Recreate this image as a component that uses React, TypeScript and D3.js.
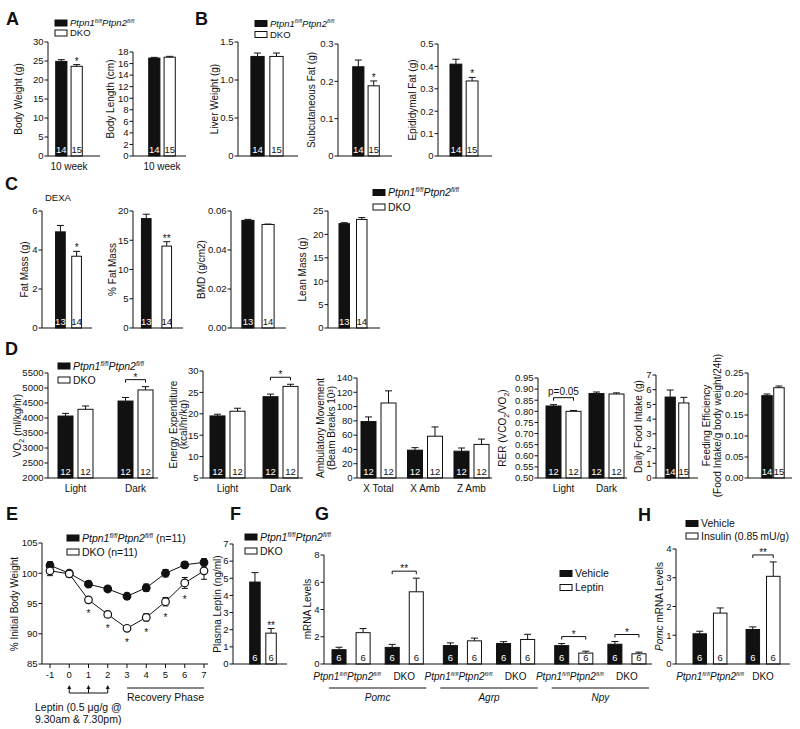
import React, { useEffect } from 'react';
import * as d3 from 'd3';

const FONT = "'Liberation Sans', Arial, Helvetica, sans-serif";
const INK = '#111';
const TICK = 9.5;
const LAB = 10;
const TL = 3.5; // tick length
const TG = 4.5; // tick label offset

// ---------------- DATA ----------------
// A
const ageLabel = ['10 week'];
const nA = [[14, 15]];
const bodyWeightMean = [[24.9, 23.6]];
const bodyWeightSem = [[0.45, 0.45]];
const bodyWeightTicks = [0, 5, 10, 15, 20, 25, 30];
const bodyLengthMean = [[16.95, 17.1]];
const bodyLengthSem = [[0.12, 0.15]];
const bodyLengthTicks = [0, 2, 4, 6, 8, 10, 12, 14, 16, 18];
// B
const nB = [[14, 15]];
const liverMean = [[1.31, 1.31]];
const liverSem = [[0.045, 0.045]];
const liverTicks = [0, 0.5, 1.0, 1.5];
const subcutMean = [[0.239, 0.188]];
const subcutSem = [[0.018, 0.013]];
const subcutTicks = [0, 0.1, 0.2, 0.3];
const epiMean = [[0.41, 0.335]];
const epiSem = [[0.022, 0.016]];
const epiTicks = [0, 0.1, 0.2, 0.3, 0.4, 0.5];
// C
const nC = [[13, 14]];
const fatMassMean = [[4.93, 3.68]];
const fatMassSem = [[0.33, 0.25]];
const fatMassTicks = [0, 2, 4, 6];
const pctFatMean = [[18.7, 14.0]];
const pctFatSem = [[0.75, 0.75]];
const pctFatTicks = [0, 5, 10, 15, 20];
const bmdMean = [[0.0552, 0.0531]];
const bmdSem = [[0.0005, 0.0002]];
const bmdTicks = [0, 0.02, 0.04, 0.06];
const leanMean = [[22.3, 23.2]];
const leanSem = [[0.2, 0.4]];
const leanTicks = [0, 5, 10, 15, 20, 25];
// D
const phases = ['Light', 'Dark'];
const nD2 = [[12, 12], [12, 12]];
const nD3 = [[12, 12], [12, 12], [12, 12]];
const vo2Mean = [[4065, 4290], [4565, 4935]];
const vo2Sem = [[90, 110], [120, 110]];
const vo2Ticks = [2000, 2500, 3000, 3500, 4000, 4500, 5000, 5500];
const eeMean = [[19.5, 20.6], [24.0, 26.4]];
const eeSem = [[0.4, 0.7], [0.6, 0.5]];
const eeTicks = [5, 10, 15, 20, 25, 30];
const ambCats = ['X Total', 'X Amb', 'Z Amb'];
const ambMean = [[79, 105], [39, 58.5], [37.5, 47]];
const ambSem = [[6.5, 17], [3.5, 13], [4.5, 7.5]];
const ambTicks = [0, 20, 40, 60, 80, 100, 120, 140];
const rerMean = [[0.824, 0.8], [0.88, 0.878]];
const rerSem = [[0.006, 0.004], [0.007, 0.005]];
const rerTicks = [0.5, 0.55, 0.6, 0.65, 0.7, 0.75, 0.8, 0.85, 0.9, 0.95];
const nFood = [[14, 15]];
const foodMean = [[5.5, 5.1]];
const foodSem = [[0.48, 0.38]];
const foodTicks = [0, 1, 2, 3, 4, 5, 6, 7];
const feedEffMean = [[0.196, 0.215]];
const feedEffSem = [[0.004, 0.004]];
const feedEffTicks = [0, 0.05, 0.1, 0.15, 0.2, 0.25];
// E
const days = [-1, 0, 1, 2, 3, 4, 5, 6, 7];
const bwCtrl = [101.3, 100.0, 98.2, 97.4, 96.2, 97.6, 100.0, 101.4, 101.8];
const bwCtrlSem = [0.6, 0.4, 0.3, 0.3, 0.5, 0.6, 0.6, 0.5, 0.6];
const bwDko = [100.4, 99.9, 95.6, 93.2, 90.9, 92.7, 95.3, 98.4, 100.4];
const bwDkoSem = [0.8, 0.5, 0.4, 0.5, 0.4, 0.6, 0.7, 0.9, 1.4];
const sigDays = [1, 2, 3, 4, 5, 6];
const eTicks = [85, 90, 95, 100, 105];
const leptinDays = [0, 1, 2];
const recoveryDays = [3, 7];
// F
const nF = [[6, 6]];
const plasmaLeptinMean = [[4.78, 1.8]];
const plasmaLeptinSem = [[0.55, 0.27]];
const plasmaTicks = [0, 1, 2, 3, 4, 5, 6, 7];
// G  [gene][genotype][treatment]
const genes = ['Pomc', 'Agrp', 'Npy'];
const gTreat = ['Vehicle', 'Leptin'];
const mrnaMean = [
  [[1.05, 2.3], [1.22, 5.3]],
  [[1.35, 1.7], [1.5, 1.8]],
  [[1.35, 0.8], [1.45, 0.75]],
];
const mrnaSem = [
  [[0.18, 0.3], [0.22, 1.0]],
  [[0.2, 0.2], [0.14, 0.38]],
  [[0.15, 0.14], [0.2, 0.12]],
];
const mrnaN = 6;
const mrnaTicks = [0, 2, 4, 6, 8];
const mrnaSig = [
  { g: 0, t: 1, text: '**' },
  { g: 2, t: 0, text: '*' },
  { g: 2, t: 1, text: '*' },
];
// H
const hTreat = ['Vehicle', 'Insulin (0.85\u2009mU/g)'];
const pomcMean = [[1.05, 1.77], [1.2, 3.05]];
const pomcSem = [[0.09, 0.18], [0.09, 0.5]];
const nH = [[6, 6], [6, 6]];
const pomcTicks = [0, 1, 2, 3, 4];

// ---------------- HELPERS ----------------
const f1 = (v: number) => (v === 0 ? '0' : d3.format('.1f')(v));
const f2 = (v: number) => d3.format('.2f')(v);

function Geno({ fs, suffix = '' }: { fs: number; suffix?: string }) {
  const sup = fs * 0.6;
  const up = fs * 0.38;
  return (
    <>
      <tspan fontStyle="italic">Ptpn1</tspan>
      <tspan fontStyle="italic" fontSize={sup} dy={-up}>fl/fl</tspan>
      <tspan fontStyle="italic" dy={up}>Ptpn2</tspan>
      <tspan fontStyle="italic" fontSize={sup} dy={-up}>fl/fl</tspan>
      <tspan dy={up}>{suffix}</tspan>
    </>
  );
}

function Legend({ x, y, gap, fs, items }: { x: number; y: number; gap: number; fs: number; items: { fill: string; label: React.ReactNode }[] }) {
  return (
    <g>
      {items.map((it, i) => (
        <g key={i}>
          <rect x={x} y={y + i * gap - 3} width={12} height={6} fill={it.fill} stroke={INK} strokeWidth={1} />
          <text x={x + 15} y={y + i * gap} dy="0.35em" fontSize={fs}>{it.label}</text>
        </g>
      ))}
    </g>
  );
}

function YLabel({ x, cy, lines, gap = 10, fs = LAB }: { x: number; cy: number; lines: React.ReactNode[]; gap?: number; fs?: number }) {
  return (
    <g>
      {lines.map((l, i) => (
        <text key={i} transform={`translate(${x + i * gap},${cy}) rotate(-90)`} textAnchor="middle" dy="0.35em" fontSize={fs}>{l}</text>
      ))}
    </g>
  );
}

function Letter({ x, y, t }: { x: number; y: number; t: string }) {
  return <text x={x} y={y} fontSize={18} fontWeight="bold">{t}</text>;
}

type Star = { c: number; s: number; text: string };
type Bracket = { c: number; text: string; fs?: number };

type BarProps = {
  ax: number; axEnd: number; bx0: number; bx1: number; y0: number; yTop: number;
  domain: [number, number]; ticks: number[]; fmt?: (v: number) => string;
  means: number[][]; sems: number[][]; ns: number[][];
  clusterPad?: number; seriesPad: number;
  clusterLabels?: React.ReactNode[]; labelDy?: number; labelFs?: number;
  yLabel: { x: number; lines: React.ReactNode[]; cy?: number; gap?: number };
  stars?: Star[]; brackets?: Bracket[];
};

function BarPanel(p: BarProps) {
  const fmt = p.fmt ?? ((v: number) => String(v));
  const y = d3.scaleLinear().domain(p.domain).range([p.y0, p.yTop]);
  const cb = d3.scaleBand<number>().domain(d3.range(p.means.length)).range([p.bx0, p.bx1]).paddingInner(p.clusterPad ?? 0.3).paddingOuter(0);
  const sb = d3.scaleBand<number>().domain([0, 1]).range([0, cb.bandwidth()]).paddingInner(p.seriesPad).paddingOuter(0);
  const xc = (c: number, s: number) => (cb(c) as number) + (sb(s) as number) + sb.bandwidth() / 2;
  const top = (c: number, s: number) => y(p.means[c][s] + p.sems[c][s]);
  return (
    <g>
      <YLabel x={p.yLabel.x} cy={p.yLabel.cy ?? (p.y0 + p.yTop) / 2} lines={p.yLabel.lines} gap={p.yLabel.gap} />
      <line x1={p.ax} x2={p.ax} y1={p.y0} y2={y(p.ticks[p.ticks.length - 1])} stroke={INK} />
      {p.ticks.map((t) => (
        <g key={t}>
          <line x1={p.ax - TL} x2={p.ax} y1={y(t)} y2={y(t)} stroke={INK} />
          <text x={p.ax - TG} y={y(t)} dy="0.35em" textAnchor="end" fontSize={TICK}>{fmt(t)}</text>
        </g>
      ))}
      {p.means.map((row, c) =>
        row.map((m, s) => {
          const w = sb.bandwidth();
          const x0 = xc(c, s) - w / 2;
          const yt = y(m);
          const ye = top(c, s);
          const cx = xc(c, s);
          const black = s === 0;
          return (
            <g key={`${c}-${s}`}>
              <line x1={cx} x2={cx} y1={yt} y2={ye} stroke={INK} />
              <line x1={cx - 3.5} x2={cx + 3.5} y1={ye} y2={ye} stroke={INK} />
              <rect x={x0} y={yt} width={w} height={p.y0 - yt} fill={black ? INK : '#fff'} stroke={INK} strokeWidth={1} />
              <text x={cx} y={p.y0 - 3} textAnchor="middle" fontSize={9.5} fill={black ? '#fff' : INK}>{p.ns[c][s]}</text>
            </g>
          );
        })
      )}
      <line x1={p.ax} x2={p.axEnd} y1={p.y0} y2={p.y0} stroke={INK} />
      {(p.clusterLabels ?? []).map((l, c) => (
        <text key={c} x={(cb(c) as number) + cb.bandwidth() / 2} y={p.y0 + (p.labelDy ?? 14)} textAnchor="middle" fontSize={p.labelFs ?? LAB}>{l}</text>
      ))}
      {(p.stars ?? []).map((st, i) => (
        <text key={i} x={xc(st.c, st.s)} y={top(st.c, st.s)} textAnchor="middle" fontSize={10}>{st.text}</text>
      ))}
      {(p.brackets ?? []).map((b, i) => {
        const by = Math.min(top(b.c, 0), top(b.c, 1)) - 7;
        const x1 = xc(b.c, 0);
        const x2 = xc(b.c, 1);
        return (
          <g key={i}>
            <path d={`M${x1},${by + 3}V${by}H${x2}V${by + 3}`} fill="none" stroke={INK} />
            <text x={(x1 + x2) / 2} y={b.text.length > 2 ? by - 3 : by + 1} textAnchor="middle" fontSize={b.fs ?? 10}>{b.text}</text>
          </g>
        );
      })}
    </g>
  );
}

function WeightCurve() {
  const x = d3.scaleLinear().domain([-1, 7]).range([50, 204]);
  const y = d3.scaleLinear().domain([85, 105]).range([664, 543]);
  const line = d3.line<number>().x((_, i) => x(days[i])).y((d) => y(d));
  const series = [
    { m: bwCtrl, e: bwCtrlSem, fill: INK },
    { m: bwDko, e: bwDkoSem, fill: '#fff' },
  ];
  const arrowY = 693;
  return (
    <g>
      <YLabel x={14} cy={604} lines={['% Initial Body Weight']} />
      <line x1={42} x2={42} y1={664} y2={y(105)} stroke={INK} />
      {eTicks.map((t) => (
        <g key={t}>
          <line x1={42 - TL} x2={42} y1={y(t)} y2={y(t)} stroke={INK} />
          <text x={42 - TG} y={y(t)} dy="0.35em" textAnchor="end" fontSize={TICK}>{t}</text>
        </g>
      ))}
      <line x1={42} x2={208} y1={664} y2={664} stroke={INK} />
      {days.map((d) => (
        <g key={d}>
          <line x1={x(d)} x2={x(d)} y1={664} y2={668} stroke={INK} />
          <text x={x(d)} y={678} textAnchor="middle" fontSize={TICK}>{d}</text>
        </g>
      ))}
      {series.map((s, k) => (
        <path key={k} d={line(s.m) ?? ''} fill="none" stroke={INK} strokeWidth={1} />
      ))}
      {series.map((s, k) =>
        s.m.map((v, i) => (
          <g key={`${k}-${i}`}>
            <line x1={x(days[i])} x2={x(days[i])} y1={y(v - s.e[i])} y2={y(v + s.e[i])} stroke={INK} />
            <line x1={x(days[i]) - 3} x2={x(days[i]) + 3} y1={y(v + s.e[i])} y2={y(v + s.e[i])} stroke={INK} />
            <line x1={x(days[i]) - 3} x2={x(days[i]) + 3} y1={y(v - s.e[i])} y2={y(v - s.e[i])} stroke={INK} />
          </g>
        ))
      )}
      {series.map((s, k) =>
        s.m.map((v, i) => (
          <circle key={`c${k}-${i}`} cx={x(days[i])} cy={y(v)} r={3.8} fill={s.fill} stroke={INK} strokeWidth={1.2} />
        ))
      )}
      {sigDays.map((d) => {
        const i = days.indexOf(d);
        return (
          <text key={d} x={x(d)} y={y(bwDko[i] - bwDkoSem[i]) + 15} textAnchor="middle" fontSize={10}>*</text>
        );
      })}
      <line x1={x(leptinDays[0])} x2={x(leptinDays[leptinDays.length - 1])} y1={arrowY} y2={arrowY} stroke={INK} />
      {leptinDays.map((d) => (
        <g key={d}>
          <line x1={x(d)} x2={x(d)} y1={arrowY} y2={arrowY - 5} stroke={INK} />
          <path d={`M${x(d) - 2},${arrowY - 4}L${x(d)},${arrowY - 8}L${x(d) + 2},${arrowY - 4}Z`} fill={INK} />
        </g>
      ))}
      <text x={35} y={711} fontSize={10.5}>Leptin (0.5 μg/g @</text>
      <text x={35} y={723} fontSize={10.5}>9.30am &amp; 7.30pm)</text>
      <line x1={x(recoveryDays[0])} x2={x(recoveryDays[1])} y1={688} y2={688} stroke={INK} />
      <text x={(x(recoveryDays[0]) + x(recoveryDays[1])) / 2} y={701} textAnchor="middle" fontSize={10.5}>Recovery Phase</text>
    </g>
  );
}

function MrnaPanel() {
  const ax = 324, axEnd = 652, y0 = 664;
  const y = d3.scaleLinear().domain([0, 8]).range([y0, 555]);
  const gb = d3.scaleBand<number>().domain(d3.range(genes.length)).range([332, 646]).paddingInner(0.18).paddingOuter(0);
  const tb = d3.scaleBand<number>().domain([0, 1]).range([0, gb.bandwidth()]).paddingInner(0.283).paddingOuter(0);
  const sb = d3.scaleBand<number>().domain([0, 1]).range([0, tb.bandwidth()]).paddingInner(0.417).paddingOuter(0);
  const xc = (g: number, t: number, s: number) => (gb(g) as number) + (tb(t) as number) + (sb(s) as number) + sb.bandwidth() / 2;
  const top = (g: number, t: number, s: number) => y(mrnaMean[g][t][s] + mrnaSem[g][t][s]);
  return (
    <g>
      <YLabel x={307} cy={609} lines={['mRNA Levels']} />
      <line x1={ax} x2={ax} y1={y0} y2={y(8)} stroke={INK} />
      {mrnaTicks.map((t) => (
        <g key={t}>
          <line x1={ax - TL} x2={ax} y1={y(t)} y2={y(t)} stroke={INK} />
          <text x={ax - TG} y={y(t)} dy="0.35em" textAnchor="end" fontSize={TICK}>{t}</text>
        </g>
      ))}
      {mrnaMean.map((gm, g) =>
        gm.map((tm, t) =>
          tm.map((m, s) => {
            const w = sb.bandwidth();
            const cx = xc(g, t, s);
            const yt = y(m);
            const ye = top(g, t, s);
            const black = s === 0;
            return (
              <g key={`${g}-${t}-${s}`}>
                <line x1={cx} x2={cx} y1={yt} y2={ye} stroke={INK} />
                <line x1={cx - 3.5} x2={cx + 3.5} y1={ye} y2={ye} stroke={INK} />
                <rect x={cx - w / 2} y={yt} width={w} height={y0 - yt} fill={black ? INK : '#fff'} stroke={INK} />
                <text x={cx} y={y0 - 3} textAnchor="middle" fontSize={9.5} fill={black ? '#fff' : INK}>{mrnaN}</text>
              </g>
            );
          })
        )
      )}
      <line x1={ax} x2={axEnd} y1={y0} y2={y0} stroke={INK} />
      {genes.map((gname, g) => {
        const gx = gb(g) as number;
        return (
          <g key={gname}>
            <text x={gx + (tb(0) as number) + tb.bandwidth() / 2 - 4} y={y0 + 16} textAnchor="middle" fontSize={LAB}><Geno fs={LAB} /></text>
            <text x={gx + (tb(1) as number) + tb.bandwidth() / 2} y={y0 + 16} textAnchor="middle" fontSize={LAB}>DKO</text>
            <line x1={gx - 3} x2={gx + gb.bandwidth() + 3} y1={688} y2={688} stroke={INK} />
            <text x={gx + gb.bandwidth() / 2} y={701} textAnchor="middle" fontSize={LAB} fontStyle="italic">{gname}</text>
          </g>
        );
      })}
      {mrnaSig.map((b, i) => {
        const by = Math.min(top(b.g, b.t, 0), top(b.g, b.t, 1)) - 7;
        const x1 = xc(b.g, b.t, 0), x2 = xc(b.g, b.t, 1);
        return (
          <g key={i}>
            <path d={`M${x1},${by + 3}V${by}H${x2}V${by + 3}`} fill="none" stroke={INK} />
            <text x={(x1 + x2) / 2} y={by + 1} textAnchor="middle" fontSize={10}>{b.text}</text>
          </g>
        );
      })}
      <Legend x={560} y={573.5} gap={14} fs={10.5} items={[{ fill: INK, label: gTreat[0] }, { fill: '#fff', label: gTreat[1] }]} />
    </g>
  );
}

export default function App() {
  useEffect(() => {
    document.body.style.margin = '0';
  }, []);
  const genoItems = (fs: number, suffix = '') => [
    { fill: INK, label: <Geno fs={fs} suffix={suffix} /> },
    { fill: '#fff', label: `DKO${suffix}` },
  ];
  return (
    <svg width={800} height={729} viewBox="0 0 800 729" style={{ display: 'block', position: 'absolute', left: 0, top: 0, background: '#fff' }} fontFamily={FONT} fill={INK}>
      <rect x={0} y={0} width={800} height={729} fill="#fff" />
      {/* Panel letters */}
      <Letter x={6} y={25} t="A" />
      <Letter x={195} y={25} t="B" />
      <Letter x={5} y={190} t="C" />
      <Letter x={5} y={355} t="D" />
      <Letter x={6} y={520} t="E" />
      <Letter x={230} y={520} t="F" />
      <Letter x={315} y={520} t="G" />
      <Letter x={638} y={521} t="H" />

      {/* A */}
      <Legend x={55} y={23} gap={10} fs={9.5} items={genoItems(9.5)} />
      <BarPanel ax={48} axEnd={100} bx0={50} bx1={88} y0={156} yTop={42} domain={[0, 30]} ticks={bodyWeightTicks}
        means={bodyWeightMean} sems={bodyWeightSem} ns={nA} seriesPad={0.27} clusterLabels={ageLabel}
        yLabel={{ x: 18, lines: ['Body Weight (g)'] }} stars={[{ c: 0, s: 1, text: '*' }]} />
      <BarPanel ax={133} axEnd={186} bx0={143} bx1={181} y0={156} yTop={52} domain={[0, 18]} ticks={bodyLengthTicks}
        means={bodyLengthMean} sems={bodyLengthSem} ns={nA} seriesPad={0.27} clusterLabels={ageLabel}
        yLabel={{ x: 110, lines: ['Body Length (cm)'], cy: 99 }} />

      {/* B */}
      <Legend x={255} y={23.5} gap={11} fs={9.5} items={genoItems(9.5)} />
      <BarPanel ax={238} axEnd={298} bx0={244} bx1={290} y0={156} yTop={42} domain={[0, 1.5]} ticks={liverTicks} fmt={f1}
        means={liverMean} sems={liverSem} ns={nB} seriesPad={0.3}
        yLabel={{ x: 214, lines: ['Liver Weight (g)'] }} />
      <BarPanel ax={338} axEnd={392} bx0={347} bx1={385} y0={156} yTop={44} domain={[0, 0.3]} ticks={subcutTicks} fmt={f1}
        means={subcutMean} sems={subcutSem} ns={nB} seriesPad={0.27}
        yLabel={{ x: 311, lines: ['Subcutaneous  Fat (g)'] }} stars={[{ c: 0, s: 1, text: '*' }]} />
      <BarPanel ax={438} axEnd={492} bx0={444} bx1={484} y0={156} yTop={44} domain={[0, 0.5]} ticks={epiTicks} fmt={f1}
        means={epiMean} sems={epiSem} ns={nB} seriesPad={0.27}
        yLabel={{ x: 412, lines: ['Epididymal Fat (g)'] }} stars={[{ c: 0, s: 1, text: '*' }]} />

      {/* C */}
      <text x={45} y={201} fontSize={9.5}>DEXA</text>
      <Legend x={373} y={192.5} gap={14.5} fs={10.5} items={genoItems(10.5)} />
      <BarPanel ax={42} axEnd={92} bx0={50} bx1={87} y0={328} yTop={211} domain={[0, 6]} ticks={fatMassTicks}
        means={fatMassMean} sems={fatMassSem} ns={nC} seriesPad={0.4}
        yLabel={{ x: 24, lines: ['Fat Mass (g)'] }} stars={[{ c: 0, s: 1, text: '*' }]} />
      <BarPanel ax={133} axEnd={183} bx0={135} bx1={178} y0={328} yTop={211} domain={[0, 20]} ticks={pctFatTicks}
        means={pctFatMean} sems={pctFatSem} ns={nC} seriesPad={0.53}
        yLabel={{ x: 112, lines: ['% Fat Mass'] }} stars={[{ c: 0, s: 1, text: '**' }]} />
      <BarPanel ax={231} axEnd={286} bx0={235} bx1={281} y0={328} yTop={211} domain={[0, 0.06]} ticks={bmdTicks} fmt={f2}
        means={bmdMean} sems={bmdSem} ns={nC} seriesPad={0.4}
        yLabel={{ x: 201, lines: ['BMD (g/cm2)'] }} />
      <BarPanel ax={328} axEnd={380} bx0={333} bx1={373} y0={328} yTop={211} domain={[0, 25]} ticks={leanTicks}
        means={leanMean} sems={leanSem} ns={nC} seriesPad={0.4}
        yLabel={{ x: 302, lines: ['Lean Mass (g)'] }} />

      {/* D */}
      <BarPanel ax={48} axEnd={158} bx0={58} bx1={153} y0={478} yTop={373} domain={[2000, 5500]} ticks={vo2Ticks}
        means={vo2Mean} sems={vo2Sem} ns={nD2} clusterPad={0.417} seriesPad={0.25} clusterLabels={phases}
        yLabel={{ x: 17, lines: [<>VO<tspan fontSize={7} dy={3}>2</tspan><tspan dy={-3}> (ml/kg/hr)</tspan></>] }}
        brackets={[{ c: 1, text: '*' }]} />
      <Legend x={58} y={366} gap={14} fs={10.5} items={genoItems(10.5)} />
      <BarPanel ax={203} axEnd={303} bx0={210} bx1={298} y0={478} yTop={371} domain={[5, 30]} ticks={eeTicks}
        means={eeMean} sems={eeSem} ns={nD2} clusterPad={0.34} seriesPad={0.25} clusterLabels={phases}
        yLabel={{ x: 173, lines: ['Energy Expenditure', '(kcal/hr/kg)'], gap: 10 }}
        brackets={[{ c: 1, text: '*' }]} />
      <BarPanel ax={357} axEnd={492} bx0={361} bx1={489} y0={478} yTop={378} domain={[0, 140]} ticks={ambTicks}
        means={ambMean} sems={ambSem} ns={nD3} clusterPad={0.247} seriesPad={0.25} clusterLabels={ambCats}
        yLabel={{ x: 320, lines: ['Ambulatory Movement', '(Beam Breaks 10³)'], gap: 11 }} />
      <BarPanel ax={538} axEnd={627} bx0={546} bx1={624} y0={478} yTop={378} domain={[0.5, 0.95]} ticks={rerTicks} fmt={f2}
        means={rerMean} sems={rerSem} ns={nD2} clusterPad={0.186} seriesPad={0.25} clusterLabels={phases}
        yLabel={{ x: 502, lines: [<>RER (VCO<tspan fontSize={7} dy={3}>2</tspan><tspan dy={-3}>/VO</tspan><tspan fontSize={7} dy={3}>2</tspan><tspan dy={-3}>)</tspan></>] }}
        brackets={[{ c: 0, text: 'p=0.05' }]} />
      <BarPanel ax={656} axEnd={698} bx0={660} bx1={694} y0={478} yTop={375} domain={[0, 7]} ticks={foodTicks}
        means={foodMean} sems={foodSem} ns={nFood} seriesPad={0.25}
        yLabel={{ x: 638, lines: ['Daily Food Intake (g)'] }} />
      <BarPanel ax={748} axEnd={792} bx0={757} bx1={789} y0={478} yTop={373} domain={[0, 0.25]} ticks={feedEffTicks} fmt={f2}
        means={feedEffMean} sems={feedEffSem} ns={nFood} seriesPad={0.12}
        yLabel={{ x: 706, lines: ['Feeding Efficiency', '(Food Intake/g body weight/24h)'], gap: 11 }} />

      {/* E */}
      <WeightCurve />
      <Legend x={67} y={538} gap={14} fs={10.5} items={genoItems(10.5, ' (n=11)')} />

      {/* F */}
      <BarPanel ax={233} axEnd={287} bx0={244} bx1={282} y0={664} yTop={544} domain={[0, 7]} ticks={plasmaTicks}
        means={plasmaLeptinMean} sems={plasmaLeptinSem} ns={nF} seriesPad={0.35}
        yLabel={{ x: 217, lines: ['Plasma Leptin (ng/ml)'] }} stars={[{ c: 0, s: 1, text: '**' }]} />
      <Legend x={245} y={537} gap={14} fs={10.5} items={genoItems(10.5)} />

      {/* G */}
      <MrnaPanel />

      {/* H */}
      <BarPanel ax={676} axEnd={790} bx0={693} bx1={780} y0={664} yTop={549} domain={[0, 4]} ticks={pomcTicks}
        means={pomcMean} sems={pomcSem} ns={nH} clusterPad={0.36} seriesPad={0.34}
        clusterLabels={[<Geno fs={LAB} />, 'DKO']} labelDy={16}
        yLabel={{ x: 659, lines: [<><tspan fontStyle="italic">Pomc</tspan> mRNA Levels</>] }}
        brackets={[{ c: 1, text: '**' }]} />
      <Legend x={686} y={523.5} gap={12.5} fs={10.5} items={[{ fill: INK, label: hTreat[0] }, { fill: '#fff', label: hTreat[1] }]} />
    </svg>
  );
}
